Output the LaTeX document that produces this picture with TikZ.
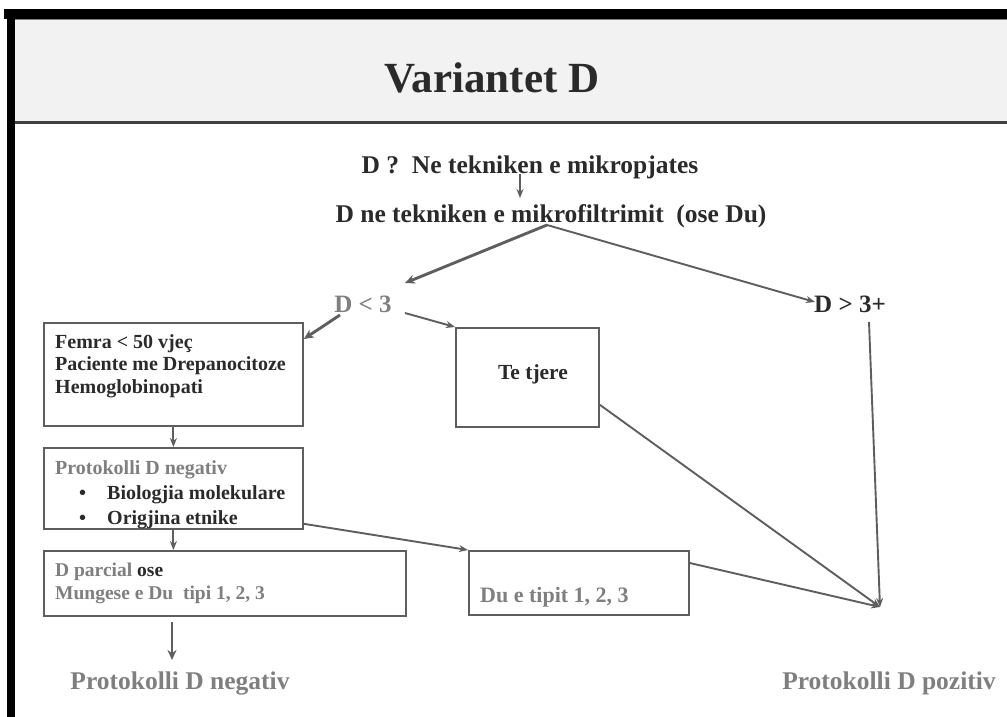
\documentclass[tikz,border=0pt]{standalone}
\usepackage{fontspec}
\setmainfont{Liberation Serif}
\usetikzlibrary{arrows.meta}
\definecolor{dk}{HTML}{2A2A2A}
\definecolor{gt}{HTML}{7F7F7F}
\definecolor{ln}{HTML}{5E5E5E}
\definecolor{hd}{HTML}{F2F2F2}
\newcommand{\fsz}[2]{\fontsize{#1}{#2}\selectfont}
\begin{document}
\begin{tikzpicture}[x=1pt,y=-1pt,
  txt/.style={font=\bfseries, text=dk, inner sep=0pt},
  gtxt/.style={font=\bfseries, text=gt, inner sep=0pt},
  box/.style={draw=ln, line width=1.8pt, anchor=north west, inner sep=0pt},
  arr/.style={draw=ln, line width=1.9pt, -{Stealth[length=9pt,width=7pt]}},
  tarr/.style={draw=ln, line width=2.9pt, -{Stealth[length=10pt,width=9pt]}}
]
\useasboundingbox (0,0) rectangle (1007,717);
% frame and header
\fill[hd] (15,19) rectangle (1007,121);
\fill[black] (4,9) rectangle (1007,19);
\fill[black] (7,9) rectangle (15,717);
\draw[color=gray, line width=1pt] (15,20) -- (1007,20);
\draw[color=black!75, line width=3pt] (15,122) -- (1007,122);
\node[txt, font=\fsz{43}{48}\bfseries] (title) at (492,78) {Variantet D};

% top texts
\node[txt, anchor=base, font=\fsz{25.5}{28}\bfseries] (q1) at (530,173) {D ?\ \ Ne tekniken e mikropjates};
\node[txt, anchor=base, font=\fsz{25.5}{28}\bfseries] (q2) at (551,222) {D ne tekniken e mikrofiltrimit\ \ (ose Du)};
\node[gtxt, anchor=base, font=\fsz{25}{28}\bfseries] (dlt) at (363,312) {D < 3};
\node[txt, anchor=base, font=\fsz{25}{28}\bfseries] (dgt) at (850,312) {D > 3+};

% boxes
\node[box, minimum width=259pt, minimum height=103pt] (femra) at (43,322) {};
\node[txt, anchor=north west, align=left, font=\fsz{20}{22.5}\bfseries] (femraT) at (55,334) {Femra < 50 vjeç\\Paciente me Drepanocitoze\\Hemoglobinopati};

\node[box, minimum width=259pt, minimum height=81pt] (prot) at (43,447) {};
\node[gtxt, anchor=base west, font=\fsz{20}{22}\bfseries] (protT) at (55,474) {Protokolli D negativ};
\node[txt, anchor=base west, font=\fsz{20}{22}\bfseries] (b1) at (79,499) {•};
\node[txt, anchor=base west, font=\fsz{20}{22}\bfseries] (b1T) at (107,499) {Biologjia molekulare};
\node[txt, anchor=base west, font=\fsz{20}{22}\bfseries] (b2) at (79,524) {•};
\node[txt, anchor=base west, font=\fsz{20}{22}\bfseries] (b2T) at (107,524) {Origjina etnike};

\node[box, minimum width=362pt, minimum height=65pt] (parc) at (43,550) {};
\node[gtxt, anchor=base west, font=\fsz{19.5}{22}\bfseries] (parcT1) at (55,576) {D parcial \textcolor{dk}{ose}};
\node[gtxt, anchor=base west, font=\fsz{19.5}{22}\bfseries] (parcT2) at (55,599) {Mungese e Du\ \ tipi 1, 2, 3};

\node[box, minimum width=143pt, minimum height=99pt] (tjere) at (455,327) {};
\node[txt, anchor=base, font=\fsz{21.5}{24}\bfseries] (tjereT) at (533,379) {Te tjere};

\node[box, minimum width=220pt, minimum height=64pt] (du) at (468,550) {};
\node[gtxt, anchor=base west, font=\fsz{22}{24}\bfseries] (duT) at (480,602) {Du e tipit 1, 2, 3};

\node[gtxt, anchor=base, font=\fsz{25.5}{28}\bfseries] (neg) at (180,689) {Protokolli D negativ};
\node[gtxt, anchor=base, font=\fsz{25.5}{28}\bfseries] (poz) at (889,689) {Protokolli D pozitiv};

% connector points
\coordinate (q1out) at (520,174);
\coordinate (q2in) at (520,198);
\coordinate (apex) at (547,225);
\coordinate (dltin) at (405,283);
\coordinate (dgtin) at (815,302);
\coordinate (dltL) at (340,315);
\coordinate (dltR) at (405,313);
\coordinate (dgtout) at (869,322);
\coordinate (conv) at (880,607);
\coordinate (parcout) at (172,622);
\coordinate (negin) at (172,660);

% connectors
\draw[arr] (q1out) -- (q2in);
\draw[tarr] (apex) -- (dltin);
\draw[arr] (apex) -- (dgtin);
\draw[tarr] (dltL) -- ([yshift=-17pt]femra.north east);
\draw[arr] (dltR) -- (tjere.north west);
\draw[arr] (femra.south) -- (prot.north);
\draw[arr] (prot.south) -- (prot.south |- parc.north);
\draw[arr] ([yshift=6pt]prot.south east) -- (du.north west);
\draw[arr] ([yshift=23pt]tjere.south east) -- (conv);
\draw[arr] ([yshift=-13pt]du.north east) -- (conv);
\draw[arr] (dgtout) -- (conv);
\draw[tarr] (parcout) -- (negin);
\end{tikzpicture}
\end{document}
